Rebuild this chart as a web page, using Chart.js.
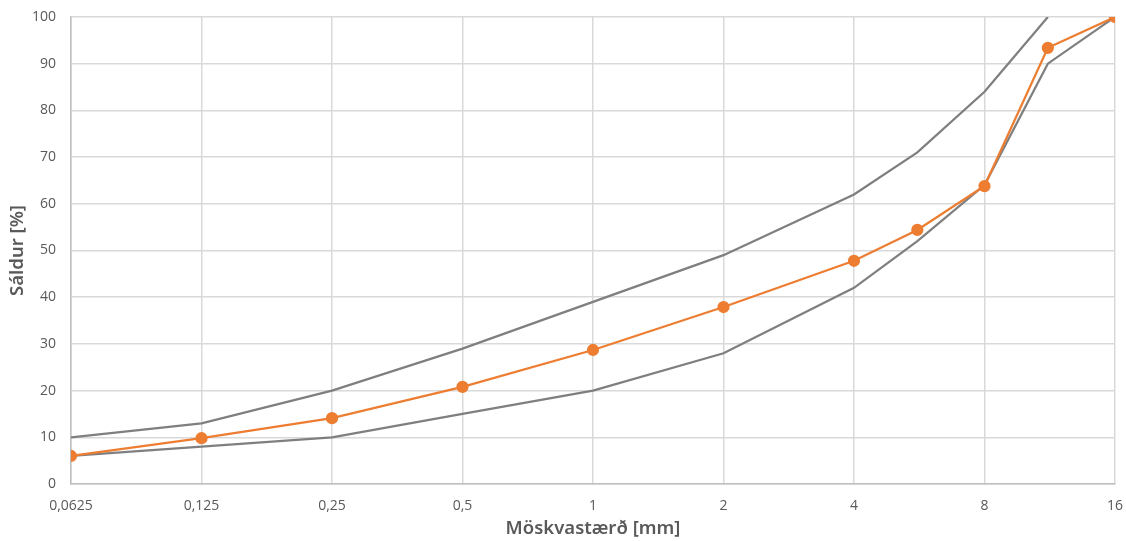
<!DOCTYPE html>
<html>
<head>
<meta charset="utf-8">
<script src="https://cdn.jsdelivr.net/npm/chart.js@4"></script>
<style>
  html, body { margin: 0; padding: 0; background: #fff; }
  #wrap { width: 1126px; height: 541px; }
</style>
</head>
<body>
<div id="wrap"><canvas id="c"></canvas></div>
<script>
// Sigtistærðir (mm) og sáldur (%)
const sizes = [0.0625, 0.125, 0.25, 0.5, 1, 2, 4, 5.6, 8, 11.2, 16];
const sample = [6, 9.8, 14.1, 20.8, 28.7, 37.9, 47.8, 54.4, 63.8, 93.4, 100];
const upperSizes = [0.0625, 0.125, 0.25, 0.5, 1, 2, 4, 5.6, 8, 11.2];
const upper = [10, 13, 20, 29, 39, 49, 62, 71, 84, 100];
const lower = [6, 8, 10, 15, 20, 28, 42, 52, 64, 90, 100];
const xTicks = [0.0625, 0.125, 0.25, 0.5, 1, 2, 4, 8, 16];

const GREY = "#7f7f7f", ORANGE = "#ED7D31", GRID = "#d9d9d9", TXT = "#595959";
const pts = (xs, ys) => ys.map((y, i) => ({ x: xs[i], y }));

new Chart(document.getElementById("c"), {
  type: "line",
  data: {
    datasets: [
      { label: "Sýni", data: pts(sizes, sample), borderColor: ORANGE, backgroundColor: ORANGE,
        borderWidth: 2.25, pointRadius: 5, pointHoverRadius: 5, tension: 0 },
      { label: "Efri mörk", data: pts(upperSizes, upper), borderColor: GREY, backgroundColor: GREY,
        borderWidth: 2.25, pointRadius: 0, tension: 0 },
      { label: "Neðri mörk", data: pts(sizes, lower), borderColor: GREY, backgroundColor: GREY,
        borderWidth: 2.25, pointRadius: 0, tension: 0 },
    ],
  },
  options: {
    responsive: true, maintainAspectRatio: false, animation: false,
    layout: { padding: { top: 17, right: 11, left: 0, bottom: 0 } },
    plugins: { legend: { display: false }, tooltip: { enabled: false } },
    scales: {
      x: {
        type: "logarithmic", min: 0.0625, max: 16,
        afterBuildTicks: (s) => { s.ticks = xTicks.map((v) => ({ value: v })); },
        afterFit: (s) => { s.height = 57; s.paddingLeft = 0; s.paddingRight = 0; },
        ticks: { color: TXT, font: { family: "Open Sans", size: 14 }, padding: 13.5, maxRotation: 0, autoSkip: false,
          callback: (v) => String(v).replace(".", ",") },
        grid: { color: GRID, lineWidth: 1.5, tickLength: 0 },
        border: { color: "#bfbfbf", width: 1.5 },
        title: { display: true, text: "Möskvastærð [mm]", color: TXT, font: { family: "Noto Sans", size: 18.5, weight: "600" }, padding: { top: 0, bottom: 1 } },
      },
      y: {
        min: 0, max: 100,
        afterFit: (s) => { s.width = 71; s.paddingTop = 0; s.paddingBottom = 0; },
        ticks: { stepSize: 10, color: TXT, font: { family: "Open Sans", size: 14 }, padding: 15 },
        grid: { color: GRID, lineWidth: 1.5, tickLength: 0 },
        border: { color: "#bfbfbf", width: 1.5 },
        title: { display: true, text: "Sáldur [%]", color: TXT, font: { family: "Noto Sans", size: 18.5, weight: "600" }, padding: { top: 7, bottom: 0 } },
      },
    },
  },
});
</script>
</body>
</html>
